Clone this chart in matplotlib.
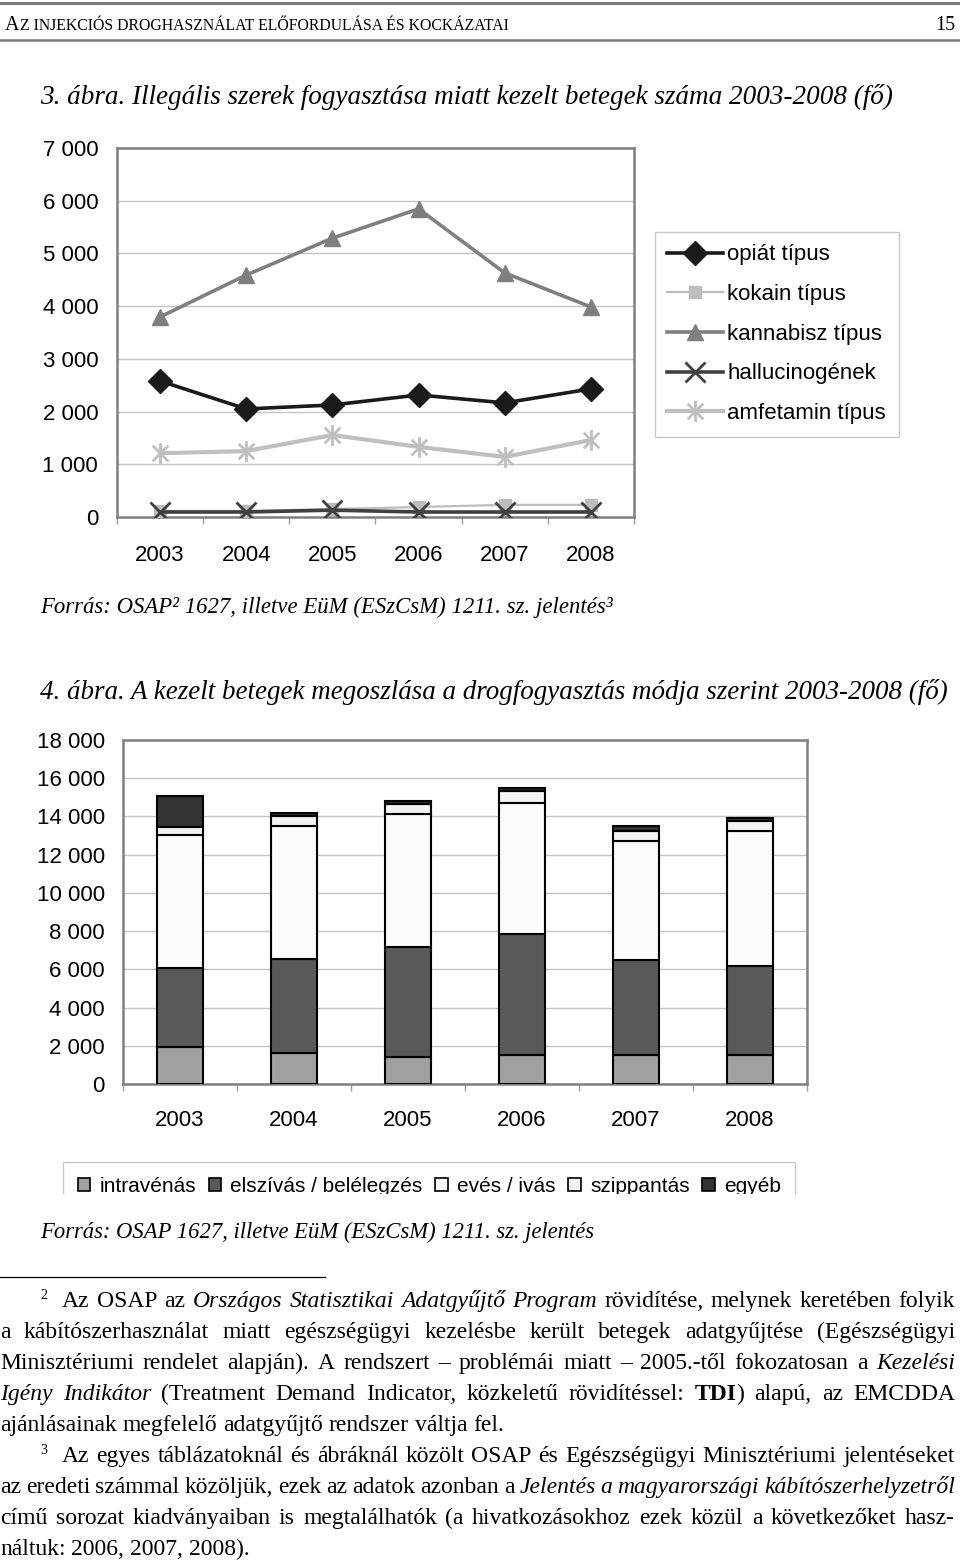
import re
import numpy as np
import matplotlib
matplotlib.use('Agg')
import matplotlib.pyplot as plt
from matplotlib.path import Path
from matplotlib.lines import Line2D
import matplotlib.patches as mpatches

# ---------------- data ----------------
years = ['2003', '2004', '2005', '2006', '2007', '2008']

opiat = [2580, 2050, 2125, 2315, 2165, 2430]
kokain = [115, 115, 150, 190, 230, 230]
kannabisz = [3795, 4590, 5290, 5845, 4630, 3985]
halluc = [95, 95, 130, 95, 95, 95]
amfetamin = [1210, 1250, 1555, 1330, 1140, 1460]
line_labels = ['opiát típus', 'kokain típus', 'kannabisz típus', 'hallucinogének', 'amfetamin típus']
line_yticks = [0, 1000, 2000, 3000, 4000, 5000, 6000, 7000]

intravenas = [1950, 1640, 1410, 1520, 1520, 1520]
elszivas = [4100, 4880, 5770, 6330, 4990, 4670]
eves = [6960, 6960, 6960, 6830, 6210, 7050]
szippantas = [435, 520, 505, 645, 520, 540]
egyeb = [1620, 160, 175, 175, 260, 155]
bar_labels = ['intravénás', 'elszívás / belélegzés', 'evés / ivás', 'szippantás', 'egyéb']
bar_yticks = [0, 2000, 4000, 6000, 8000, 10000, 12000, 14000, 16000, 18000]

header_first = 'A'
header_rest = 'Z INJEKCIÓS DROGHASZNÁLAT ELŐFORDULÁSA ÉS KOCKÁZATAI'
page_no = '15'
title3 = '3. ábra. Illegális szerek fogyasztása miatt kezelt betegek száma 2003-2008 (fő)'
source3 = 'Forrás: OSAP² 1627, illetve EüM (ESzCsM) 1211. sz. jelentés³'
title4 = '4. ábra. A kezelt betegek megoszlása a drogfogyasztás módja szerint 2003-2008 (fő)'
source4 = 'Forrás: OSAP 1627, illetve EüM (ESzCsM) 1211. sz. jelentés'

foot_lines = [
    ('Az OSAP az *Országos* *Statisztikai* *Adatgyűjtő* *Program* rövidítése, melynek keretében folyik', True),
    ('a kábítószerhasználat miatt egészségügyi kezelésbe került betegek adatgyűjtése (Egészségügyi', True),
    ('Minisztériumi rendelet alapján). A rendszert – problémái miatt – 2005.-től fokozatosan a *Kezelési*', True),
    ('*Igény* *Indikátor* (Treatment Demand Indicator, közkeletű rövidítéssel: **TDI**) alapú, az EMCDDA', True),
    ('ajánlásainak megfelelő adatgyűjtő rendszer váltja fel.', False),
    ('Az egyes táblázatoknál és ábráknál közölt OSAP és Egészségügyi Minisztériumi jelentéseket', True),
    ('az eredeti számmal közöljük, ezek az adatok azonban a *Jelentés* *a* *magyarországi* *kábítószerhelyzetről*', True),
    ('című sorozat kiadványaiban is megtalálhatók (a hivatkozásokhoz ezek közül a következőket hasz-', True),
    ('náltuk: 2006, 2007, 2008).', False),
]

# ---------------- setup ----------------
W, H = 960, 1563
SANS = 'Liberation Sans'
SERIF = 'Liberation Serif'
plt.rcParams['font.family'] = [SANS, 'DejaVu Sans']

fig = plt.figure(figsize=(W / 100, H / 100), dpi=100)
fig.patch.set_facecolor('white')
renderer = fig.canvas.get_renderer()


def fx(x):
    return x / W


def fy(y):
    return 1 - y / H


STYLE = {'n': dict(style='normal', weight='normal'),
         'i': dict(style='italic', weight='normal'),
         'b': dict(style='normal', weight='bold')}


def text_width(s, fs, style='n', family=SERIF):
    t = fig.text(0, 0, s, fontsize=fs, family=family, **STYLE[style])
    w = t.get_window_extent(renderer).width
    t.remove()
    return w


def parse_word(word):
    runs = []
    for part in re.split(r'(\*\*[^*]+\*\*|\*[^*]+\*)', word):
        if not part:
            continue
        if part.startswith('**'):
            runs.append((part[2:-2], 'b'))
        elif part.startswith('*'):
            runs.append((part[1:-1], 'i'))
        else:
            runs.append((part, 'n'))
    return runs


def line_fits(markup, fs, avail):
    words = [parse_word(w) for w in markup.split(' ')]
    tot = sum(text_width(t, fs, s) for runs in words for t, s in runs)
    natural = text_width('a a', fs) - text_width('aa', fs)
    return tot + 0.75 * natural * (len(words) - 1) <= avail


def draw_line(x0, x1, ybase, markup, fs, justify):
    words = [parse_word(w) for w in markup.split(' ')]
    if not justify:
        # draw each style run as one piece
        x = x0
        for j, runs in enumerate(words):
            for t, s in runs:
                fig.text(fx(x), fy(ybase), t, fontsize=fs, family=SERIF,
                         va='baseline', ha='left', **STYLE[s])
                x += text_width(t, fs, s)
            x += text_width('a a', fs) - text_width('aa', fs)
        return
    widths = [sum(text_width(t, fs, s) for t, s in runs) for runs in words]
    gap = (x1 - x0 - sum(widths)) / (len(words) - 1)
    x = x0
    for runs in words:
        for t, s in runs:
            fig.text(fx(x), fy(ybase), t, fontsize=fs, family=SERIF, va='baseline',
                     ha='left', **STYLE[s])
            x += text_width(t, fs, s)
        x += gap


def fit_text(x0, x1, yc, s, fs0, style='i'):
    w = text_width(s, fs0, style)
    fs = fs0 * (x1 - x0) / w
    fig.text(fx(x0), fy(yc), s, fontsize=fs, family=SERIF, va='center', ha='left',
             **STYLE[style])


def fmt(v):
    return f'{v:,}'.replace(',', ' ')


# ---------------- header ----------------
fig.add_artist(Line2D([0, 1], [fy(3), fy(3)], color='#7a7a7a', lw=2.2))
fig.add_artist(Line2D([0, 1], [fy(40), fy(40)], color='#7a7a7a', lw=1.8))
fig.text(fx(5), fy(30), header_first, fontsize=14.5, family=SERIF, va='baseline')
wa = text_width(header_first, 14.5)
hw = text_width(header_rest, 11)
fig.text(fx(5 + wa), fy(30), header_rest, fontsize=11 * (505 - wa) / hw, family=SERIF,
         va='baseline')
fig.text(fx(955), fy(30), page_no, fontsize=14.5, family=SERIF, va='baseline', ha='right')

fit_text(40, 895, 97, title3, 18)
fit_text(40, 612, 607, source3, 14)
fit_text(40, 950, 692, title4, 18)
fit_text(40, 597, 1232, source4, 14)

# ---------------- line chart ----------------
ax1 = fig.add_axes([fx(117), fy(517), 517 / W, 369 / H])
x = np.arange(len(years))

ast = Path([(0, -1), (0, 1), (-0.75, -0.75), (0.75, 0.75), (-0.75, 0.75), (0.75, -0.75)],
           [Path.MOVETO, Path.LINETO, Path.MOVETO, Path.LINETO, Path.MOVETO, Path.LINETO])

h1, = ax1.plot(x, opiat, color='#1a1a1a', lw=2.6, marker='D', ms=12, zorder=4)
h2, = ax1.plot(x, kokain, color='#bdbdbd', lw=1.6, marker='s', ms=8, zorder=3)
h3, = ax1.plot(x, kannabisz, color='#7f7f7f', lw=2.6, marker='^', ms=11, zorder=4)
h4, = ax1.plot(x, halluc, color='#404040', lw=2.6, marker='x', ms=14, mew=2, zorder=5)
h5, = ax1.plot(x, amfetamin, color='#bfbfbf', lw=3, marker=ast, ms=15, mew=2,
               mfc='none', mec='#bfbfbf', zorder=4)

ax1.set_xlim(-0.5, len(years) - 0.5)
ax1.set_ylim(line_yticks[0], line_yticks[-1])
ax1.set_yticks(line_yticks)
ax1.set_yticklabels([fmt(v) for v in line_yticks])
ax1.set_xticks(x)
ax1.set_xticklabels(years)
ax1.set_xticks(np.arange(-0.5, len(years)), minor=True)
ax1.tick_params(axis='y', length=0, pad=13.5, labelsize=16)
ax1.tick_params(axis='x', which='major', length=0, pad=20, labelsize=16)
ax1.tick_params(axis='x', which='minor', length=5, width=1, color='#a0a0a0', direction='out')
ax1.grid(axis='y', color='#c4c4c4', lw=1)
ax1.set_axisbelow(True)
for sp in ax1.spines.values():
    sp.set_color('#808080')
    sp.set_linewidth(1.8)

fig.legend([h1, h2, h3, h4, h5], line_labels, loc='upper left',
           bbox_to_anchor=(fx(655), fy(232)), borderaxespad=0, fontsize=16,
           frameon=True, fancybox=False, edgecolor='#c8c8c8', framealpha=1,
           handlelength=2.5, handletextpad=0.2, labelspacing=0.84, borderpad=0.56,
           numpoints=1)

# ---------------- bar chart ----------------
ax2 = fig.add_axes([fx(123), fy(1084), 684 / W, 344 / H])
series = [intravenas, elszivas, eves, szippantas, egyeb]
colors = ['#a0a0a0', '#595959', '#fbfbfb', '#f2f2f2', '#333333']
bottom = np.zeros(len(years))
handles = []
for vals, col, lab in zip(series, colors, bar_labels):
    ax2.bar(x, vals, width=0.41, bottom=bottom, color=col, edgecolor='black',
            lw=1.5, label=lab, zorder=3)
    bottom += np.array(vals)
    handles.append(mpatches.Patch(facecolor=col, edgecolor='black', lw=1.2))

ax2.set_xlim(-0.5, len(years) - 0.5)
ax2.set_ylim(bar_yticks[0], bar_yticks[-1])
ax2.set_yticks(bar_yticks)
ax2.set_yticklabels([fmt(v) for v in bar_yticks])
ax2.set_xticks(x)
ax2.set_xticklabels(years)
ax2.set_xticks(np.arange(-0.5, len(years)), minor=True)
ax2.tick_params(axis='y', length=0, pad=13, labelsize=16)
ax2.tick_params(axis='x', which='major', length=0, pad=19, labelsize=16)
ax2.tick_params(axis='x', which='minor', length=5, width=1, color='#a0a0a0', direction='out')
ax2.grid(axis='y', color='#c4c4c4', lw=1)
ax2.set_axisbelow(True)
for sp in ax2.spines.values():
    sp.set_color('#808080')
    sp.set_linewidth(1.8)

fig.legend(handles, bar_labels, loc='upper left', ncol=5,
           bbox_to_anchor=(fx(63), fy(1162)), borderaxespad=0, fontsize=15,
           frameon=True, fancybox=False, edgecolor='#c8c8c8', framealpha=1,
           handlelength=0.6, handleheight=0.6, handletextpad=0.45,
           columnspacing=0.6, borderpad=0.7)
# page crop cuts off the bottom of the legend box
fig.add_artist(mpatches.Rectangle((fx(55), fy(1218)), fx(760), 24 / H,
                                  transform=fig.transFigure, facecolor='white',
                                  edgecolor='none', zorder=20))

# ---------------- footnotes ----------------
fig.add_artist(Line2D([0, fx(325)], [fy(1277), fy(1277)], color='black', lw=0.9))
starts = [62, 0, 0, 0, 0, 62, 0, 0, 0]
FS = 18.0
while not all(line_fits(l, FS, 955 - xs) for (l, j), xs in zip(foot_lines, starts) if j):
    FS -= 0.25
for i, ((line, just), xs) in enumerate(zip(foot_lines, starts)):
    ybase = 1300 + 31 * i + 7
    draw_line(xs, 955, ybase, line, FS, just)
fig.text(fx(40), fy(1300 - 1), '2', fontsize=10, family=SERIF, va='baseline')
fig.text(fx(40), fy(1300 + 31 * 5 - 1), '3', fontsize=10, family=SERIF, va='baseline')

fig.savefig('out.png', dpi=100, facecolor='white')
